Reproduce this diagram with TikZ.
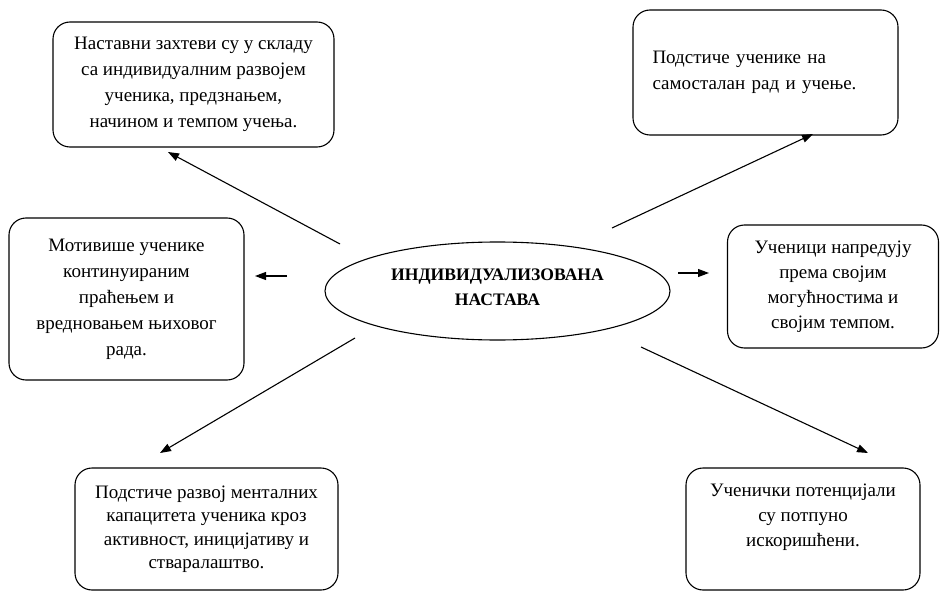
\documentclass[tikz,border=0pt]{standalone}
\usepackage{fontspec}
\setmainfont{Liberation Serif}
\usetikzlibrary{shapes.geometric,arrows.meta}
\begin{document}
\begin{tikzpicture}[x=1pt,y=-1pt,
  every node/.style={inner sep=0pt,outer sep=0pt},
  box/.style={draw=black,line width=1.1pt,rounded corners=17pt,fill=none},
  txt/.style={align=center,font=\fontsize{19}{26}\selectfont},
  conn/.style={line width=1.1pt,-{Triangle[length=11pt,width=8pt]}}]
\useasboundingbox (0,0) rectangle (940,591);
% boxes
\node[box,minimum width=281pt,minimum height=125pt] (b1) at (193.5,84.5) {};
\node[txt] (t1) at (b1) {Наставни захтеви су у складу\\са индивидуалним развојем\\ученика, предзнањем,\\начином и темпом учења.};
\node[box,minimum width=265pt,minimum height=125pt] (b2) at (765.5,72.5) {};
\node[txt,align=left,text width=226pt] (t2) at ([yshift=0pt]b2) {Подстиче ученике на\\самосталан рад и учење.};
\node[box,minimum width=235pt,minimum height=162pt] (b3) at (126.5,299) {};
\node[txt] (t3) at (b3) {Мотивише ученике\\континуираним\\праћењем и\\вредновањем њиховог\\рада.};
\node[box,minimum width=211pt,minimum height=123pt] (b4) at (833,286.5) {};
\node[txt,font=\fontsize{19}{25}\selectfont] (t4) at (b4) {Ученици напредују\\према својим\\могућностима и\\својим темпом.};
\node[box,minimum width=263pt,minimum height=122pt] (b5) at (206.5,529) {};
\node[txt,font=\fontsize{19}{23.5}\selectfont] (t5) at (b5) {Подстиче развој менталних\\капацитета ученика кроз\\активност, иницијативу и\\стваралаштво.};
\node[box,minimum width=234pt,minimum height=122pt] (b6) at (803,529) {};
\node[txt,font=\fontsize{19}{25}\selectfont,anchor=north] (t6) at ([yshift=-16pt]b6.north) {Ученички потенцијали\\су потпуно\\искоришћени.};
% center
\node[draw=black,line width=1.1pt,ellipse,minimum width=345pt,minimum height=98pt] (c) at (497.5,291) {};
\node[align=center,font=\fontsize{17.6}{25}\selectfont\bfseries] (ct) at (497.5,287) {ИНДИВИДУАЛИЗОВАНА\\НАСТАВА};
% connector endpoints
\coordinate (s1) at (340,244); \coordinate (e1) at (168,152);
\coordinate (s2) at (612,228); \coordinate (e2) at (813,134);
\coordinate (s3) at (287,276); \coordinate (e3) at (255,276);
\coordinate (s4) at (678,273); \coordinate (e4) at (709,273);
\coordinate (s5) at (355,338); \coordinate (e5) at (160,453);
\coordinate (s6) at (641,347); \coordinate (e6) at (868,453);
\draw[conn] (s1) -- (e1);
\draw[conn] (s2) -- (e2);
\draw[conn] (s3) -- (e3);
\draw[conn] (s4) -- (e4);
\draw[conn] (s5) -- (e5);
\draw[conn] (s6) -- (e6);
\end{tikzpicture}
\end{document}
